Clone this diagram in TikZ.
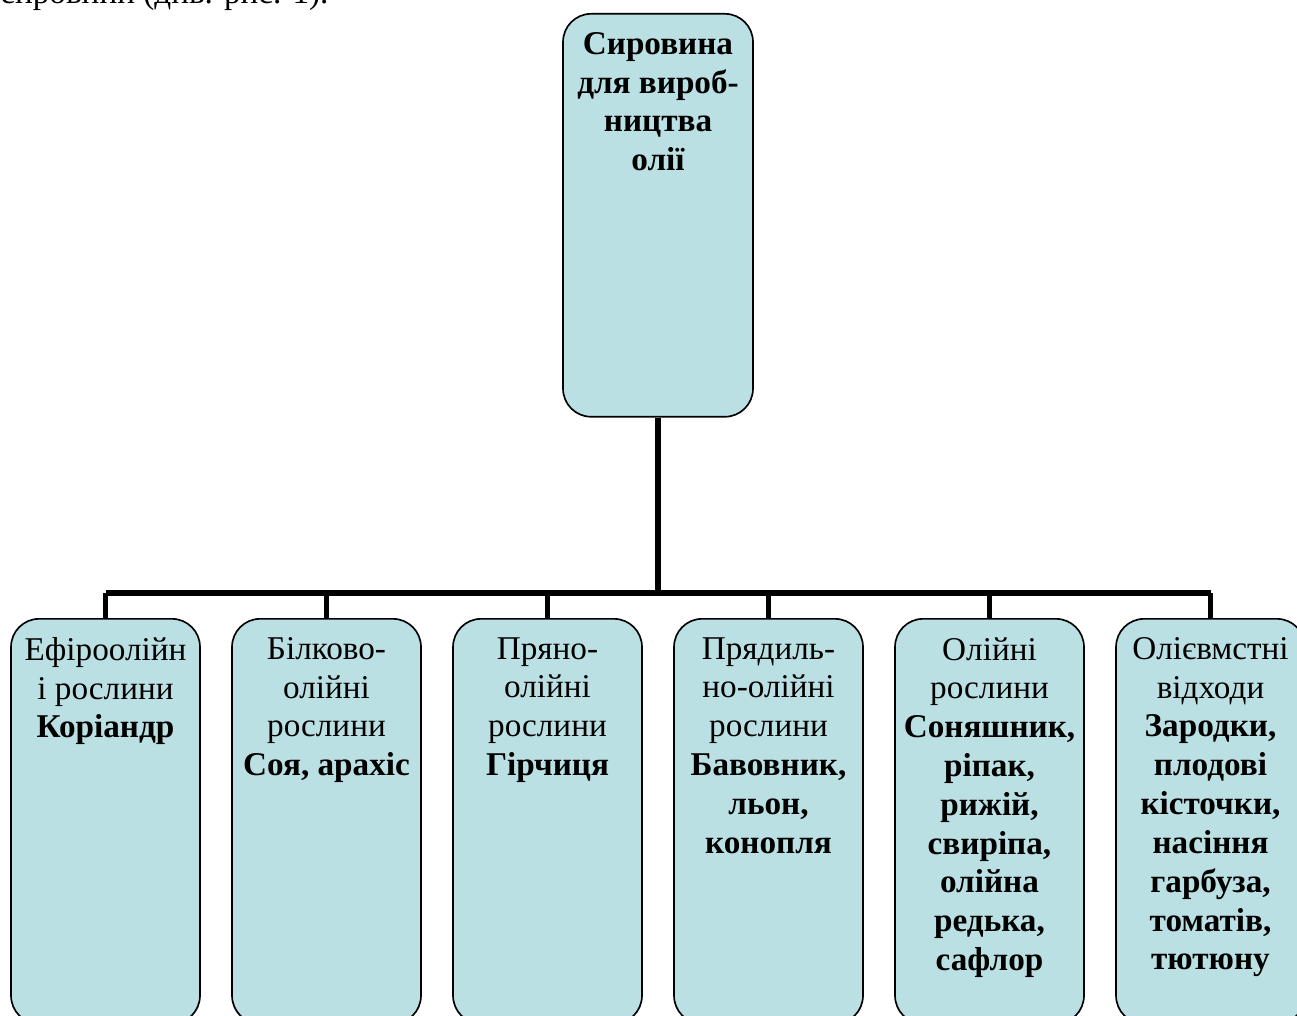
\documentclass[tikz,border=0pt]{standalone}
\usepackage{fontspec}
\setmainfont{Liberation Serif}
\usetikzlibrary{calc}
\definecolor{boxfill}{HTML}{BBE0E3}
\newcommand{\boxtext}[3]{\parbox[c][#2][t]{#1}{\centering\fontsize{18.9}{22.1}\selectfont\vspace*{10.5pt}#3\par}}
\tikzset{
  box/.style={draw, fill=boxfill, rounded corners=16pt, inner sep=0pt, anchor=north, line width=0.95pt},
  link/.style={line width=3.1pt}
}
\begin{document}
\begin{tikzpicture}[x=0.02cm, y=-0.02cm]

  % Rahmen
  \useasboundingbox (0,0) rectangle (1297,1016);
  \clip (0,0) rectangle (1297,1016);

  % Textzeile oben (abgeschnitten)
  \node[anchor=base west, inner sep=0pt, font=\fontsize{18.9}{22.1}\selectfont] (caption) at (0,4)
    {сировини (див. рис. 1).};

  % Oberer Kasten
  \node[box] (top) at (658,13)
    {\boxtext{3.8cm}{8.06cm}{\bfseries Сировина\\для вироб-\\ництва\\олії}};

  % Untere Kaesten
  \node[box] (b1) at (105.5,618)
    {\boxtext{3.78cm}{8.1cm}{Ефіроолійн\\і рослини\\\textbf{Коріандр}}};
  \node[box] (b2) at (326.5,618)
    {\boxtext{3.78cm}{8.1cm}{Білково-\\олійні\\рослини\\\textbf{Соя, арахіс}}};
  \node[box] (b3) at (547.5,618)
    {\boxtext{3.78cm}{8.1cm}{Пряно-\\олійні\\рослини\\\textbf{Гірчиця}}};
  \node[box] (b4) at (768.5,618)
    {\boxtext{3.78cm}{8.1cm}{Прядиль-\\но-олійні\\рослини\\\textbf{Бавовник,\\льон,\\конопля}}};
  \node[box] (b5) at (989.5,618)
    {\boxtext{3.78cm}{8.1cm}{Олійні\\рослини\\\textbf{Соняшник,\\ріпак,\\рижій,\\свиріпа,\\олійна\\редька,\\сафлор}}};
  \node[box] (b6) at (1210.5,618)
    {\boxtext{3.78cm}{8.1cm}{Олієвмстні\\відходи\\\textbf{Зародки,\\плодові\\кісточки,\\насіння\\гарбуза,\\томатів,\\тютюну}}};

  % Verbindungen
  \coordinate (bus) at (658,593);
  \draw[link] (top.south) -- (bus);
  \draw[link] (b1.north |- bus) -- (b6.north |- bus);
  \foreach \i in {1,...,6}
    \draw[link] (b\i.north) -- (b\i.north |- bus);

\end{tikzpicture}
\end{document}
